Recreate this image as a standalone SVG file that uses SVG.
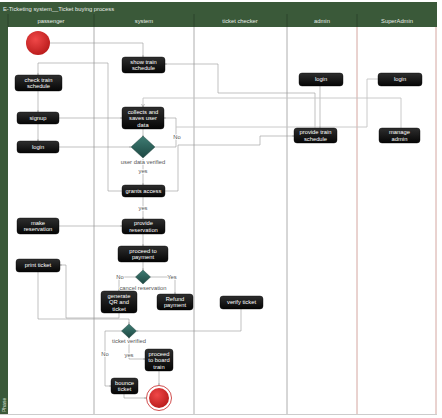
<svg xmlns="http://www.w3.org/2000/svg" width="442" height="418" viewBox="0 0 442 418">
<defs>
<linearGradient id="nodeG" x1="0" y1="0" x2="0" y2="1"><stop offset="0" stop-color="#2e2e2e"/><stop offset="1" stop-color="#050505"/></linearGradient>
<linearGradient id="decG" x1="0" y1="0" x2="0" y2="1"><stop offset="0" stop-color="#3f7d74"/><stop offset="1" stop-color="#1d4742"/></linearGradient>
<radialGradient id="redG" cx="0.4" cy="0.35" r="0.7"><stop offset="0" stop-color="#f04848"/><stop offset="1" stop-color="#b81a1a"/></radialGradient>
<marker id="arr" viewBox="0 0 6 6" refX="5.5" refY="3" markerWidth="4" markerHeight="4" orient="auto"><path d="M0.5,0.5 L5.5,3 L0.5,5.5" fill="none" stroke="#888" stroke-width="0.9"/></marker>
</defs>
<style>
.node rect{fill:url(#nodeG);stroke:#000;stroke-width:0.4}
.dec polygon{fill:url(#decG);stroke:#1a3a36;stroke-width:0.4}
.nt{font-family:"Liberation Sans",Arial,sans-serif;font-size:5.8px;fill:#fff;text-anchor:middle}
.lbl{font-family:"Liberation Sans",Arial,sans-serif;font-size:5.8px;fill:#555;text-anchor:middle;stroke:#fff;stroke-width:1.6px;paint-order:stroke}
.hd{font-family:"Liberation Sans",Arial,sans-serif;font-size:5.8px;fill:#e8ede8;text-anchor:middle}
.conn path{fill:none;stroke:#999;stroke-width:0.6;marker-end:url(#arr)}
.conn path.nm{marker-end:none}
.lane{stroke:#9a9a9a;stroke-width:0.8}
.lane2{stroke:#c98f88;stroke-width:0.8}
</style>
<rect x="0" y="0" width="442" height="418" fill="#fff"/>
<g id="frame">
<rect x="0" y="2" width="437" height="12" fill="#3a5939"/>
<rect x="0" y="14" width="8" height="400" fill="#3a5939"/>
<rect x="8" y="14" width="429" height="13" fill="#3a5939"/>
<line x1="8" y1="14" x2="8" y2="27" stroke="#2a3f2a" stroke-width="0.8"/>
<line x1="94" y1="14" x2="94" y2="27" stroke="#2a3f2a" stroke-width="0.8"/>
<line x1="194" y1="14" x2="194" y2="27" stroke="#2a3f2a" stroke-width="0.8"/>
<line x1="287" y1="14" x2="287" y2="27" stroke="#2a3f2a" stroke-width="0.8"/>
<line x1="357" y1="14" x2="357" y2="27" stroke="#2a3f2a" stroke-width="0.8"/>
<text x="3" y="10.5" font-family="Liberation Sans, Arial, sans-serif" font-size="5.8" fill="#e8ede8">E-Ticketing system__Ticket buying process</text>
<text class="hd" x="51" y="22.5">passenger</text>
<text class="hd" x="144" y="22.5">system</text>
<text class="hd" x="240" y="22.5">ticket checker</text>
<text class="hd" x="322" y="22.5">admin</text>
<text class="hd" x="397" y="22.5">SuperAdmin</text>
<text transform="translate(6,412) rotate(-90)" font-family="Liberation Sans, Arial, sans-serif" font-size="5" fill="#d8e0d8">Phase</text>
<line class="lane" x1="94" y1="27" x2="94" y2="414"/>
<line class="lane" x1="194" y1="27" x2="194" y2="414"/>
<line class="lane" x1="287" y1="27" x2="287" y2="414"/>
<line class="lane2" x1="357" y1="27" x2="357" y2="414"/>
<line class="lane2" x1="436" y1="27" x2="436" y2="414"/>
<line x1="0" y1="414.5" x2="437" y2="414.5" stroke="#ccc" stroke-width="1"/>
</g>
<g class="conn" id="connectors">
<path d="M50,43 H143 V57"/>
<path d="M122,191 H108 V63 H38 V75"/>
<path d="M38,91 V112"/>
<path d="M59,118 H122"/>
<path d="M38,124 V141"/>
<path d="M59,147 H131"/>
<path d="M143,129 V137"/>
<path d="M155,147 H176 V118 H164"/>
<path d="M143,159 V185"/>
<path d="M143,197 V219"/>
<path d="M59,226 H122"/>
<path d="M143,234 V246"/>
<path d="M143,262 V270"/>
<path d="M136,277 H119 V291"/>
<path d="M150,277 H175 V294"/>
<path d="M119,313 V318 H66 V265 H60"/>
<path d="M38,272 V319 H129 V324"/>
<path d="M241,309 V331 H136.5"/>
<path d="M122,331 H105 V386 H111"/>
<path d="M129,337 V359 H145"/>
<path d="M159,371 V385"/>
<path d="M124,394 V398 H146"/>
<path d="M315,128 V93 H218 V64 H165"/>
<path d="M320,86 V128"/>
<path d="M401,128 V98 H143 V107" style="stroke:#c4c4c4;stroke-width:0.9"/>
<path class="nm" d="M378,79 H367 V127 H176" style="stroke:#c4c4c4;stroke-width:0.9"/>
<path d="M165,191 H178 V145 H260 V136 H294"/>
</g>
<g id="labels">
<text class="lbl" x="177" y="139">No</text>
<text class="lbl" x="143" y="164">user data verified</text>
<text class="lbl" x="143" y="173">yes</text>
<text class="lbl" x="143" y="210">yes</text>
<text class="lbl" x="120" y="279">No</text>
<text class="lbl" x="172" y="279">Yes</text>
<text class="lbl" x="143" y="290">cancel reservation</text>
<text class="lbl" x="129" y="343">ticket verified</text>
<text class="lbl" x="105" y="356">No</text>
<text class="lbl" x="129" y="357">yes</text>
</g>
<g id="start"><circle cx="38" cy="43" r="12" fill="url(#redG)"/></g>
<g id="end"><circle cx="159" cy="398" r="12.5" fill="#fff" stroke="#c42020" stroke-width="0.8"/><circle cx="159" cy="398" r="10" fill="url(#redG)"/></g>
<g class="node" id="showTrainSchedule"><rect x="122" y="57" width="43" height="16" rx="3"/><text class="nt" x="143.5" y="63.5">show train</text><text class="nt" x="143.5" y="70">schedule</text></g>
<g class="node" id="checkTrainSchedule"><rect x="15" y="75" width="47" height="16" rx="3"/><text class="nt" x="38.5" y="81.5">check train</text><text class="nt" x="38.5" y="88">schedule</text></g>
<g class="node" id="signup"><rect x="17" y="112" width="42" height="12" rx="3"/><text class="nt" x="38" y="120">signup</text></g>
<g class="node" id="collects"><rect x="122" y="107" width="42" height="22" rx="3"/><text class="nt" x="143" y="113.5">collects and</text><text class="nt" x="143" y="120">saves user</text><text class="nt" x="143" y="126.5">data</text></g>
<g class="node" id="loginPassenger"><rect x="17" y="141" width="42" height="12" rx="3"/><text class="nt" x="38" y="149">login</text></g>
<g class="dec" id="userDataVerified"><polygon points="143,136 155,147 143,158 131,147"/></g>
<g class="node" id="grantsAccess"><rect x="122" y="185" width="43" height="12" rx="3"/><text class="nt" x="143.5" y="193">grants access</text></g>
<g class="node" id="makeReservation"><rect x="17" y="218" width="42" height="16" rx="3"/><text class="nt" x="38" y="224.5">make</text><text class="nt" x="38" y="231">reservation</text></g>
<g class="node" id="provideReservation"><rect x="122" y="219" width="43" height="15" rx="3"/><text class="nt" x="143.5" y="225">provide</text><text class="nt" x="143.5" y="231.5">reservation</text></g>
<g class="node" id="proceedPayment"><rect x="118" y="246" width="50" height="16" rx="3"/><text class="nt" x="143" y="252.5">proceed to</text><text class="nt" x="143" y="259">payment</text></g>
<g class="node" id="printTicket"><rect x="16" y="259" width="44" height="13" rx="3"/><text class="nt" x="38" y="267">print ticket</text></g>
<g class="dec" id="cancelReservation"><polygon points="143,270 150.5,277 143,284 135.5,277"/></g>
<g class="node" id="generateQR"><rect x="101" y="291" width="36" height="22" rx="3"/><text class="nt" x="119" y="297.5">generate</text><text class="nt" x="119" y="304">QR and</text><text class="nt" x="119" y="310.5">ticket</text></g>
<g class="node" id="refundPayment"><rect x="157" y="294" width="36" height="16" rx="3"/><text class="nt" x="175" y="300.5">Refund</text><text class="nt" x="175" y="307">payment</text></g>
<g class="node" id="verifyTicket"><rect x="220" y="296" width="43" height="13" rx="3"/><text class="nt" x="241.5" y="304">verify ticket</text></g>
<g class="dec" id="ticketVerified"><polygon points="129,324 136.5,331 129,338 121.5,331"/></g>
<g class="node" id="proceedBoard"><rect x="145" y="349" width="28" height="22" rx="3"/><text class="nt" x="159" y="355.5">proceed</text><text class="nt" x="159" y="362">to board</text><text class="nt" x="159" y="368.5">train</text></g>
<g class="node" id="bounceTicket"><rect x="111" y="378" width="27" height="16" rx="3"/><text class="nt" x="124.5" y="384.5">bounce</text><text class="nt" x="124.5" y="391">ticket</text></g>
<g class="node" id="loginAdmin"><rect x="299" y="73" width="44" height="13" rx="3"/><text class="nt" x="321" y="81">login</text></g>
<g class="node" id="loginSuperAdmin"><rect x="378" y="73" width="44" height="13" rx="3"/><text class="nt" x="400" y="81">login</text></g>
<g class="node" id="provideTrainSchedule"><rect x="294" y="128" width="43" height="15" rx="3"/><text class="nt" x="315.5" y="134">provide train</text><text class="nt" x="315.5" y="140.5">schedule</text></g>
<g class="node" id="manageAdmin"><rect x="379" y="128" width="41" height="15" rx="3"/><text class="nt" x="399.5" y="134">manage</text><text class="nt" x="399.5" y="140.5">admin</text></g>
</svg>
